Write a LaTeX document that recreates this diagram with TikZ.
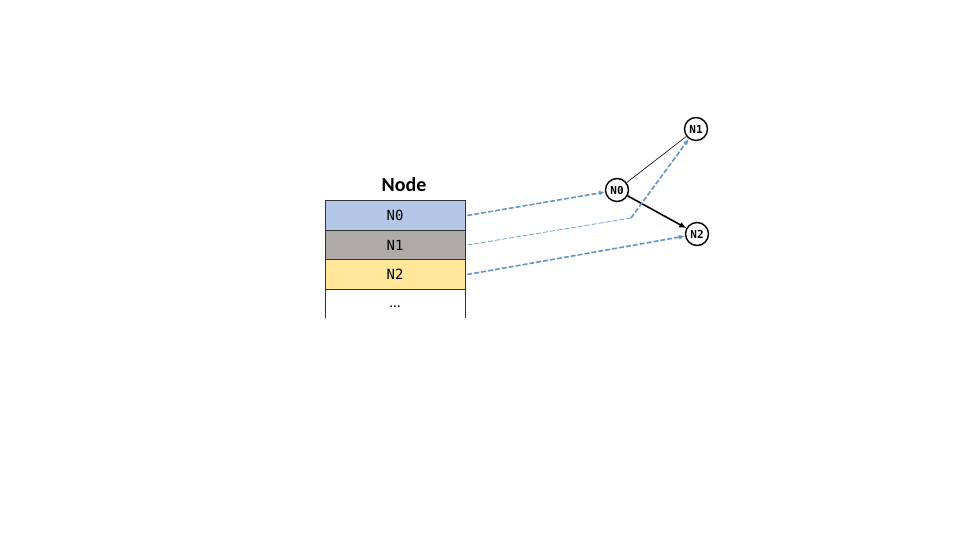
\documentclass[tikz,border=0pt]{standalone}
\usepackage{fontspec}
\setmainfont{Carlito}
\setmonofont{DejaVu Sans Mono}
\usetikzlibrary{arrows.meta}
\definecolor{rowA}{RGB}{180,199,231}
\definecolor{rowB}{RGB}{174,170,170}
\definecolor{rowC}{RGB}{255,230,153}
\definecolor{link}{RGB}{100,150,195}
\begin{document}
\begin{tikzpicture}[x=1pt,y=-1pt,
  cell/.style={draw=black!80,line width=0.6pt,minimum width=140pt,minimum height=29.5pt,inner sep=0pt,font=\ttfamily\fontsize{14}{14}\selectfont},
  vert/.style={circle,draw=black,line width=1.4pt,minimum size=23pt,inner sep=0pt,font=\ttfamily\bfseries\fontsize{11}{11}\selectfont},
  ptr/.style={draw=link,line width=1.6pt,dash pattern=on 5pt off 2pt,-{Latex[length=6pt,width=5pt]}},
  ptrthin/.style={draw=link,line width=0.7pt,dash pattern=on 5pt off 2pt}]
\useasboundingbox (0,0) rectangle (960,540);
\node[font=\bfseries\fontsize{20}{20}\selectfont] (hdr) at (404,185) {Node};
\node[cell,fill=rowA] (c0) at (395,215.5) {N0};
\node[cell,fill=rowB] (c1) at (395,245) {N1};
\node[cell,fill=rowC] (c2) at (395,274.5) {N2};
\node[minimum width=140pt,minimum height=29pt,inner sep=0pt] (c3) at (395,303.5) {};
\node[font=\fontsize{15}{15}\selectfont,inner sep=0pt] (dots) at (395,307) {…};
\draw[black!80,line width=0.6pt] (c3.north west) -- (c3.south west);
\draw[black!80,line width=0.6pt] (c3.north east) -- (c3.south east);
\node[vert] (v0) at (617,190) {N0};
\node[vert] (v1) at (696,129) {N1};
\node[vert] (v2) at (697,234) {N2};
\draw[line width=0.6pt] (v0) -- (v1);
\draw[line width=1.6pt,-{Latex[length=7pt,width=6pt]}] (v0) -- (v2);
\coordinate (bend) at (631,218);
\draw[ptr] ([xshift=2pt]c0.east) -- (v0);
\draw[ptrthin] ([xshift=2pt]c1.east) -- (bend);
\draw[ptr] (bend) -- (v1);
\draw[ptr] ([xshift=2pt]c2.east) -- (v2);
\end{tikzpicture}
\end{document}
